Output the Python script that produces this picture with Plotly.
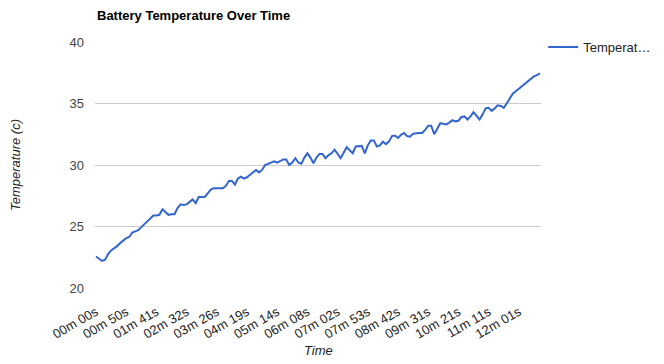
import plotly.graph_objects as go

# Temperature readings (°C), one per sample
temperature = [
    22.56, 22.4, 22.2, 22.3, 22.75, 23.05, 23.2, 23.4, 23.65, 23.85,
    24.05, 24.15, 24.5, 24.6, 24.7, 24.95, 25.2, 25.45, 25.7, 25.9,
    25.9, 25.95, 26.4, 26.2, 25.95, 26.0, 26.0, 26.5, 26.8, 26.75,
    26.8, 27.0, 27.2, 26.9, 27.4, 27.4, 27.4, 27.7, 28.0, 28.1,
    28.1, 28.05, 28.1, 28.3, 28.7, 28.7, 28.4, 28.9, 29.05, 28.9,
    29.0, 29.2, 29.4, 29.6, 29.4, 29.6, 30.0, 30.1, 30.15, 30.3,
    30.2, 30.3, 30.45, 30.45, 30.0, 30.2, 30.55, 30.2, 30.1, 30.6,
    30.95, 30.6, 30.15, 30.6, 30.9, 30.9, 30.55, 30.8, 30.95, 31.25,
    30.9, 30.55, 31.0, 31.45, 31.2, 30.95, 31.5, 31.55, 31.55, 30.95,
    31.6, 32.0, 32.0, 31.5, 31.6, 31.9, 31.7, 31.9, 32.35, 32.4,
    32.2, 32.45, 32.6, 32.35, 32.3, 32.55, 32.6, 32.6, 32.6, 32.85,
    33.2, 33.2, 32.5, 32.9, 33.4, 33.35, 33.3, 33.45, 33.65, 33.55,
    33.6, 33.9, 33.95, 33.7, 33.95, 34.3, 34.0, 33.7, 34.1, 34.6,
    34.65, 34.4, 34.6, 34.85, 34.8, 34.65, 35.0, 35.4, 35.8, 36.0,
    36.2, 36.4, 36.6, 36.85, 37.0, 37.2, 37.3, 37.45,
]
sample_index = list(range(len(temperature)))

# Time labels shown on the x axis (every 10th sample)
tick_positions = [0, 10, 20, 30, 40, 50, 60, 70, 80, 90, 100, 110, 120, 130, 140]
tick_labels = ["00m 00s", "00m 50s", "01m 41s", "02m 32s", "03m 26s", "04m 19s",
               "05m 14s", "06m 08s", "07m 02s", "07m 53s", "08m 42s", "09m 31s",
               "10m 21s", "11m 11s", "12m 01s"]
y_ticks = [20, 25, 30, 35, 40]

FONT = "Liberation Sans, Arial, sans-serif"

fig = go.Figure()
fig.add_trace(go.Scatter(
    x=sample_index, y=temperature, mode="lines", name="Temperat…",
    line=dict(color="#3366cc", width=2),
))

fig.update_layout(
    width=664, height=364,
    margin=dict(l=87, r=131, t=34, b=84, autoexpand=False),
    paper_bgcolor="white", plot_bgcolor="white",
    font=dict(family=FONT, size=13, color="#222222"),
    showlegend=True,
    legend=dict(x=1.005, y=1.04, xanchor="left", yanchor="top",
                font=dict(size=13, color="#222222"), itemwidth=30,
                bgcolor="rgba(0,0,0,0)"),
    xaxis=dict(
        range=[-0.33, 147.35], tickmode="array", tickvals=tick_positions,
        ticktext=tick_labels, tickangle=-30, showgrid=False, zeroline=False,
        showline=False, ticks="", ticklabelstandoff=13, automargin=False,
        tickfont=dict(size=13, color="#222222"),
    ),
    yaxis=dict(
        range=[20, 40], tickmode="array", tickvals=y_ticks,
        showgrid=True, gridcolor="#cccccc", gridwidth=1, zeroline=False,
        showline=False, ticks="", ticklabelstandoff=10, automargin=False,
        tickfont=dict(size=13, color="#444444"),
    ),
    annotations=[
        dict(text="<b>Battery Temperature Over Time</b>", xref="paper", yref="paper",
             x=0, y=1, xshift=0, yshift=27, xanchor="left", yanchor="middle",
             showarrow=False, font=dict(size=13, color="#000000", family=FONT)),
        dict(text="<i>Temperature (c)</i>", xref="paper", yref="paper",
             x=0, y=0.5, xshift=-80, textangle=-90, xanchor="center", yanchor="middle",
             showarrow=False, font=dict(size=13, color="#222222", family=FONT)),
        dict(text="<i>Time</i>", xref="paper", yref="paper",
             x=0.5, y=0, yshift=-62, xanchor="center", yanchor="middle",
             showarrow=False, font=dict(size=13, color="#222222", family=FONT)),
    ],
)

fig.write_html("out.html")
